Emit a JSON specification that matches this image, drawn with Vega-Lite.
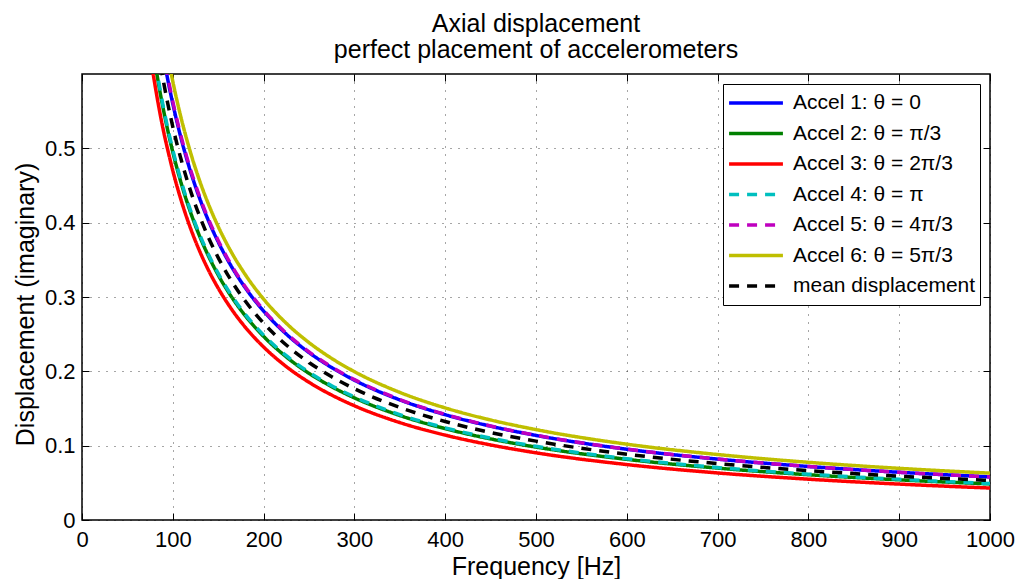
{
  "$schema": "https://vega.github.io/schema/vega-lite/v6.json",
  "width": 908,
  "height": 446,
  "autosize": "none",
  "padding": {"left": 82, "top": 74, "right": 29, "bottom": 59},
  "background": "white",
  "title": {
    "text": ["Axial displacement", "perfect placement of accelerometers"],
    "font": "Liberation Sans",
    "fontSize": 25,
    "fontWeight": "normal",
    "color": "black",
    "lineHeight": 26,
    "offset": 11,
    "anchor": "middle"
  },
  "config": {
    "view": {"stroke": "black", "strokeWidth": 1.5},
    "font": "Liberation Sans",
    "axis": {
      "labelFont": "Liberation Sans",
      "labelFontSize": 22,
      "labelColor": "black",
      "labelFlush": false,
      "labelOverlap": false,
      "titleFont": "Liberation Sans",
      "titleFontSize": 25,
      "titleFontWeight": "normal",
      "titleColor": "black",
      "domain": false,
      "tickColor": "black",
      "tickSize": -7,
      "tickWidth": 1,
      "gridColor": "black",
      "gridDash": [1, 7],
      "gridOpacity": 0.7
    },
    "legend": {
      "orient": "none",
      "legendX": 641,
      "legendY": 10,
      "symbolType": "stroke",
      "symbolSize": 2900,
      "symbolStrokeWidth": 3.5,
      "labelFont": "Liberation Sans",
      "labelFontSize": 21,
      "labelColor": "black",
      "labelLimit": 400,
      "strokeColor": "black",
      "fillColor": "white",
      "padding": 4,
      "clipHeight": 30,
      "rowPadding": 0.5,
      "labelOffset": 8
    }
  },
  "data": {
    "values": [
      {"f": 70, "Accel 1: θ = 0": 0.800, "Accel 2: θ = π/3": 0.707, "Accel 3: θ = 2π/3": 0.671, "Accel 4: θ = π": 0.711, "Accel 5: θ = 4π/3": 0.804, "Accel 6: θ = 5π/3": 0.843, "mean displacement": 0.756},
      {"f": 75, "Accel 1: θ = 0": 0.747, "Accel 2: θ = π/3": 0.660, "Accel 3: θ = 2π/3": 0.627, "Accel 4: θ = π": 0.664, "Accel 5: θ = 4π/3": 0.751, "Accel 6: θ = 5π/3": 0.787, "mean displacement": 0.706},
      {"f": 80, "Accel 1: θ = 0": 0.700, "Accel 2: θ = π/3": 0.619, "Accel 3: θ = 2π/3": 0.588, "Accel 4: θ = π": 0.623, "Accel 5: θ = 4π/3": 0.704, "Accel 6: θ = 5π/3": 0.738, "mean displacement": 0.662},
      {"f": 85, "Accel 1: θ = 0": 0.659, "Accel 2: θ = π/3": 0.582, "Accel 3: θ = 2π/3": 0.553, "Accel 4: θ = π": 0.586, "Accel 5: θ = 4π/3": 0.662, "Accel 6: θ = 5π/3": 0.694, "mean displacement": 0.623},
      {"f": 90, "Accel 1: θ = 0": 0.622, "Accel 2: θ = π/3": 0.550, "Accel 3: θ = 2π/3": 0.522, "Accel 4: θ = π": 0.553, "Accel 5: θ = 4π/3": 0.626, "Accel 6: θ = 5π/3": 0.656, "mean displacement": 0.588},
      {"f": 95, "Accel 1: θ = 0": 0.589, "Accel 2: θ = π/3": 0.521, "Accel 3: θ = 2π/3": 0.495, "Accel 4: θ = π": 0.524, "Accel 5: θ = 4π/3": 0.593, "Accel 6: θ = 5π/3": 0.621, "mean displacement": 0.557},
      {"f": 100, "Accel 1: θ = 0": 0.560, "Accel 2: θ = π/3": 0.495, "Accel 3: θ = 2π/3": 0.470, "Accel 4: θ = π": 0.498, "Accel 5: θ = 4π/3": 0.563, "Accel 6: θ = 5π/3": 0.590, "mean displacement": 0.529},
      {"f": 110, "Accel 1: θ = 0": 0.5093, "Accel 2: θ = π/3": 0.4499, "Accel 3: θ = 2π/3": 0.4269, "Accel 4: θ = π": 0.4526, "Accel 5: θ = 4π/3": 0.5120, "Accel 6: θ = 5π/3": 0.5367, "mean displacement": 0.4812},
      {"f": 120, "Accel 1: θ = 0": 0.4670, "Accel 2: θ = π/3": 0.4123, "Accel 3: θ = 2π/3": 0.3909, "Accel 4: θ = π": 0.4148, "Accel 5: θ = 4π/3": 0.4695, "Accel 6: θ = 5π/3": 0.4924, "mean displacement": 0.4411},
      {"f": 130, "Accel 1: θ = 0": 0.4313, "Accel 2: θ = π/3": 0.3805, "Accel 3: θ = 2π/3": 0.3605, "Accel 4: θ = π": 0.3828, "Accel 5: θ = 4π/3": 0.4335, "Accel 6: θ = 5π/3": 0.4548, "mean displacement": 0.4072},
      {"f": 140, "Accel 1: θ = 0": 0.4006, "Accel 2: θ = π/3": 0.3533, "Accel 3: θ = 2π/3": 0.3344, "Accel 4: θ = π": 0.3555, "Accel 5: θ = 4π/3": 0.4027, "Accel 6: θ = 5π/3": 0.4227, "mean displacement": 0.3781},
      {"f": 150, "Accel 1: θ = 0": 0.3741, "Accel 2: θ = π/3": 0.3296, "Accel 3: θ = 2π/3": 0.3119, "Accel 4: θ = π": 0.3317, "Accel 5: θ = 4π/3": 0.3760, "Accel 6: θ = 5π/3": 0.3948, "mean displacement": 0.3530},
      {"f": 165, "Accel 1: θ = 0": 0.3402, "Accel 2: θ = π/3": 0.2996, "Accel 3: θ = 2π/3": 0.2831, "Accel 4: θ = π": 0.3015, "Accel 5: θ = 4π/3": 0.3419, "Accel 6: θ = 5π/3": 0.3593, "mean displacement": 0.3209},
      {"f": 180, "Accel 1: θ = 0": 0.3121, "Accel 2: θ = π/3": 0.2745, "Accel 3: θ = 2π/3": 0.2591, "Accel 4: θ = π": 0.2763, "Accel 5: θ = 4π/3": 0.3136, "Accel 6: θ = 5π/3": 0.3298, "mean displacement": 0.2942},
      {"f": 200, "Accel 1: θ = 0": 0.2811, "Accel 2: θ = π/3": 0.2470, "Accel 3: θ = 2π/3": 0.2328, "Accel 4: θ = π": 0.2487, "Accel 5: θ = 4π/3": 0.2824, "Accel 6: θ = 5π/3": 0.2972, "mean displacement": 0.2648},
      {"f": 225, "Accel 1: θ = 0": 0.2501, "Accel 2: θ = π/3": 0.2194, "Accel 3: θ = 2π/3": 0.2064, "Accel 4: θ = π": 0.2210, "Accel 5: θ = 4π/3": 0.2512, "Accel 6: θ = 5π/3": 0.2647, "mean displacement": 0.2354},
      {"f": 250, "Accel 1: θ = 0": 0.2253, "Accel 2: θ = π/3": 0.1973, "Accel 3: θ = 2π/3": 0.1853, "Accel 4: θ = π": 0.1988, "Accel 5: θ = 4π/3": 0.2262, "Accel 6: θ = 5π/3": 0.2387, "mean displacement": 0.2119},
      {"f": 275, "Accel 1: θ = 0": 0.2051, "Accel 2: θ = π/3": 0.1793, "Accel 3: θ = 2π/3": 0.1681, "Accel 4: θ = π": 0.1807, "Accel 5: θ = 4π/3": 0.2059, "Accel 6: θ = 5π/3": 0.2174, "mean displacement": 0.1927},
      {"f": 300, "Accel 1: θ = 0": 0.1881, "Accel 2: θ = π/3": 0.1643, "Accel 3: θ = 2π/3": 0.1537, "Accel 4: θ = π": 0.1656, "Accel 5: θ = 4π/3": 0.1888, "Accel 6: θ = 5π/3": 0.1996, "mean displacement": 0.1766},
      {"f": 350, "Accel 1: θ = 0": 0.1616, "Accel 2: θ = π/3": 0.1406, "Accel 3: θ = 2π/3": 0.1311, "Accel 4: θ = π": 0.1418, "Accel 5: θ = 4π/3": 0.1621, "Accel 6: θ = 5π/3": 0.1717, "mean displacement": 0.1514},
      {"f": 400, "Accel 1: θ = 0": 0.1417, "Accel 2: θ = π/3": 0.1229, "Accel 3: θ = 2π/3": 0.1142, "Accel 4: θ = π": 0.1240, "Accel 5: θ = 4π/3": 0.1421, "Accel 6: θ = 5π/3": 0.1508, "mean displacement": 0.1325},
      {"f": 450, "Accel 1: θ = 0": 0.1262, "Accel 2: θ = π/3": 0.1091, "Accel 3: θ = 2π/3": 0.1010, "Accel 4: θ = π": 0.1101, "Accel 5: θ = 4π/3": 0.1265, "Accel 6: θ = 5π/3": 0.1346, "mean displacement": 0.1177},
      {"f": 500, "Accel 1: θ = 0": 0.1138, "Accel 2: θ = π/3": 0.0981, "Accel 3: θ = 2π/3": 0.0904, "Accel 4: θ = π": 0.0991, "Accel 5: θ = 4π/3": 0.1140, "Accel 6: θ = 5π/3": 0.1216, "mean displacement": 0.1061},
      {"f": 600, "Accel 1: θ = 0": 0.0952, "Accel 2: θ = π/3": 0.0816, "Accel 3: θ = 2π/3": 0.0746, "Accel 4: θ = π": 0.0825, "Accel 5: θ = 4π/3": 0.0954, "Accel 6: θ = 5π/3": 0.1020, "mean displacement": 0.0885},
      {"f": 700, "Accel 1: θ = 0": 0.0819, "Accel 2: θ = π/3": 0.0698, "Accel 3: θ = 2π/3": 0.0633, "Accel 4: θ = π": 0.0706, "Accel 5: θ = 4π/3": 0.0820, "Accel 6: θ = 5π/3": 0.0881, "mean displacement": 0.0759},
      {"f": 800, "Accel 1: θ = 0": 0.0720, "Accel 2: θ = π/3": 0.0609, "Accel 3: θ = 2π/3": 0.0549, "Accel 4: θ = π": 0.0617, "Accel 5: θ = 4π/3": 0.0720, "Accel 6: θ = 5π/3": 0.0776, "mean displacement": 0.0664},
      {"f": 900, "Accel 1: θ = 0": 0.0642, "Accel 2: θ = π/3": 0.0540, "Accel 3: θ = 2π/3": 0.0483, "Accel 4: θ = π": 0.0548, "Accel 5: θ = 4π/3": 0.0642, "Accel 6: θ = 5π/3": 0.0695, "mean displacement": 0.0590},
      {"f": 1000, "Accel 1: θ = 0": 0.058, "Accel 2: θ = π/3": 0.0485, "Accel 3: θ = 2π/3": 0.043, "Accel 4: θ = π": 0.049, "Accel 5: θ = 4π/3": 0.058, "Accel 6: θ = 5π/3": 0.063, "mean displacement": 0.0532}
    ]
  },
  "transform": [
    {"fold": ["Accel 1: θ = 0", "Accel 2: θ = π/3", "Accel 3: θ = 2π/3", "Accel 4: θ = π", "Accel 5: θ = 4π/3", "Accel 6: θ = 5π/3", "mean displacement"], "as": ["series", "y"]}
  ],
  "layer": [
    {
      "mark": {"type": "line", "clip": true, "strokeWidth": 3.5, "interpolate": "monotone"},
      "encoding": {
        "x": {
          "field": "f", "type": "quantitative",
          "scale": {"domain": [0, 1000], "nice": false, "zero": false},
          "axis": {"title": "Frequency [Hz]", "values": [0, 100, 200, 300, 400, 500, 600, 700, 800, 900, 1000], "format": "d", "grid": true, "labelPadding": 16, "titlePadding": 4, "orient": "bottom"}
        },
        "y": {
          "field": "y", "type": "quantitative",
          "scale": {"domain": [0, 0.6], "nice": false},
          "axis": {"title": "Displacement (imaginary)", "values": [0, 0.1, 0.2, 0.3, 0.4, 0.5], "format": "~g", "grid": true, "labelPadding": 14, "titlePadding": 6, "titleY": 230, "orient": "left"}
        },
        "color": {
          "field": "series", "type": "nominal",
          "scale": {
            "domain": ["Accel 1: θ = 0", "Accel 2: θ = π/3", "Accel 3: θ = 2π/3", "Accel 4: θ = π", "Accel 5: θ = 4π/3", "Accel 6: θ = 5π/3", "mean displacement"],
            "range": ["#0000ff", "#008000", "#ff0000", "#00bfbf", "#bf00bf", "#bfbf00", "#000000"]
          },
          "legend": {"title": null}
        },
        "strokeDash": {
          "field": "series", "type": "nominal",
          "scale": {
            "domain": ["Accel 1: θ = 0", "Accel 2: θ = π/3", "Accel 3: θ = 2π/3", "Accel 4: θ = π", "Accel 5: θ = 4π/3", "Accel 6: θ = 5π/3", "mean displacement"],
            "range": [[1, 0], [1, 0], [1, 0], [10, 8], [10, 8], [1, 0], [10, 8]]
          },
          "legend": {"title": null}
        }
      }
    },
    {
      "mark": {"type": "point", "opacity": 0, "clip": true},
      "encoding": {
        "x": {"field": "f", "type": "quantitative", "axis": {"orient": "top", "title": null, "labels": false, "grid": false, "values": [0, 100, 200, 300, 400, 500, 600, 700, 800, 900, 1000]}},
        "y": {"field": "y", "type": "quantitative", "axis": {"orient": "right", "title": null, "labels": false, "grid": false, "values": [0, 0.1, 0.2, 0.3, 0.4, 0.5]}}
      }
    }
  ],
  "resolve": {"axis": {"x": "independent", "y": "independent"}}
}
